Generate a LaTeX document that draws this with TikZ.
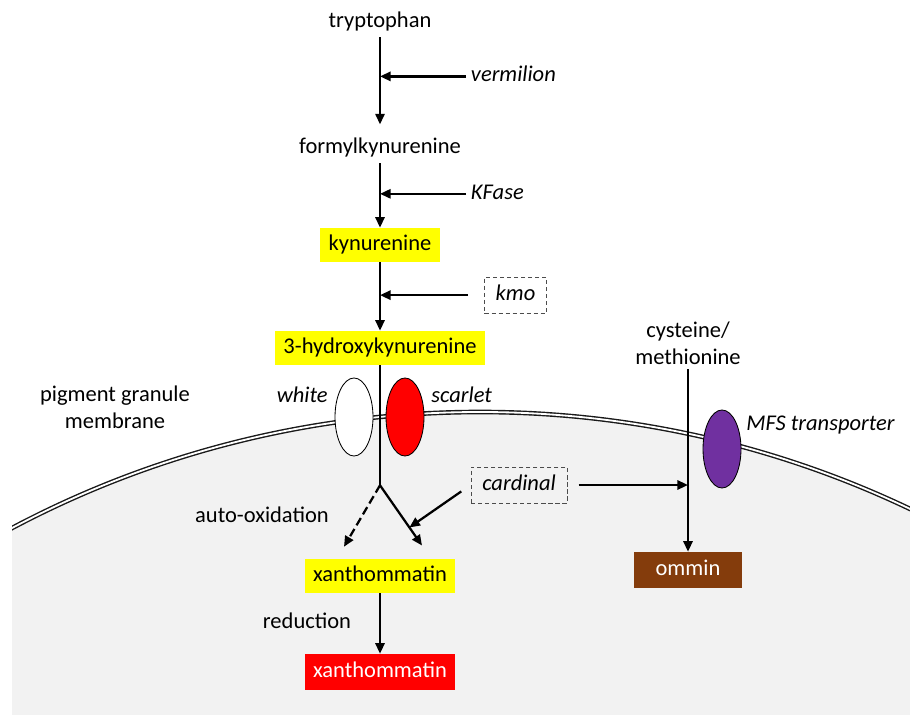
\documentclass[tikz,border=0pt]{standalone}
\usepackage{fontspec}
\setmainfont{Carlito}
\usetikzlibrary{positioning}
\usetikzlibrary{shapes.geometric}
\usetikzlibrary{arrows.meta}
\definecolor{hilite}{HTML}{FFFF00}
\definecolor{pigred}{HTML}{FF0000}
\definecolor{omminbrown}{HTML}{843C0C}
\definecolor{mfspurple}{HTML}{7030A0}
\definecolor{granulegray}{HTML}{F2F2F2}
\tikzset{
    metab/.style={font=\fontsize{16}{19}\selectfont, text height=11pt, text depth=3.5pt},
    yellowbox/.style={metab, fill=hilite, inner xsep=6pt, minimum height=0.85cm},
    redbox/.style={metab, fill=pigred, text=white, inner xsep=6pt, minimum height=0.9cm},
    ommbox/.style={metab, fill=omminbrown, text=white, minimum width=2.7cm, minimum height=0.9cm},
    gene/.style={metab, font=\fontsize{16}{19}\selectfont\itshape},
    genebox/.style={gene, draw=black!70, dash pattern=on 3pt off 2pt, line width=0.7pt, inner xsep=8pt, minimum height=0.9cm},
    flow/.style={line width=1.6pt, -{Triangle[length=7.5pt,width=6.5pt]}},
    plainline/.style={line width=1.6pt},
    carrier/.style={ellipse, draw, line width=0.6pt, minimum width=0.95cm, minimum height=1.95cm, inner sep=0pt},
    membrane/.style={draw=black!90, line width=1pt, double=white, double distance=1.3pt},
}

\begin{document}
\begin{tikzpicture}
            \useasboundingbox (0,0) rectangle (22.75,-17.9);
            % pigment granule
            \begin{scope}
                \clip (0.3,0) rectangle (22.75,-17.85);
                \fill[granulegray] (12,-35.3) circle (25);
                \draw[membrane] (12,-35.3) circle (25);
            \end{scope}

            \node[metab] (trp) at (9.5,-0.55)                   {tryptophan};
            \node[metab] (fkyn) [on grid, below=3.15cm of trp]  {formylkynurenine};
            \node[yellowbox] (kyn) [on grid, below=2.425cm of fkyn] {kynurenine};
            \node[yellowbox] (hk) [on grid, below=2.575cm of kyn]   {3-hydroxykynurenine};
            \node[yellowbox] (xan) [on grid, below=5.7cm of hk]     {xanthommatin};
            \node[redbox] (xanred) [on grid, below=2.4cm of xan]    {xanthommatin};

            \draw[flow, shorten >=6pt] (trp) -- coordinate[pos=0.41] (j1) (fkyn);
            \draw[flow] (fkyn) -- coordinate[pos=0.475] (j2) (kyn);
            \draw[flow] (kyn) -- coordinate[pos=0.48] (j3) (hk);

            \node[gene] (verm) [right=2.15cm of j1]   {vermilion};
            \node[gene] (kfase) [right=2.15cm of j2]  {KFase};
            \node[genebox] (kmo) [right=2.6cm of j3]  {kmo};
            \draw[flow] (verm) -- (j1);
            \draw[flow] (kfase) -- (j2);
            \draw[flow, shorten <=0.4cm] (kmo) -- (j3);

            \node[carrier, fill=white] (wht) at (8.85,-10.425) {};
            \node[carrier, fill=pigred] (sct) at (10.125,-10.425) {};
            \node[gene] (whtlbl) [left=0.05cm of wht.west, yshift=0.5cm]  {white};
            \node[gene] (sctlbl) [right=0.05cm of sct.east, yshift=0.5cm] {scarlet};

            \coordinate[below=3cm of hk] (br);
            \coordinate (ox) at ([xshift=-0.9cm,yshift=0.3cm]xan.north);
            \coordinate (enz) at ([xshift=1.05cm,yshift=0.33cm]xan.north);
            \draw[plainline] (hk) -- (br);
            \draw[flow, dash pattern=on 6pt off 3pt] (br) -- (ox);
            \draw[flow] (br) -- coordinate[pos=0.7] (j4) (enz);

            \node[metab] (autox) at (6.55,-12.925) {auto-oxidation};
            \node[metab, align=center] (pgm) at (2.875,-10.575) {pigment granule\\membrane};

            \draw[flow] (xan) -- coordinate (rmid) (xanred);
            \node[metab] (redn) [left=0.6cm of rmid] {reduction};

            \node[metab, align=center, text height=, text depth=] (cys) at (17.2,-8.575) {cysteine/\\methionine};
            \node[ommbox] (omm) [on grid, below=5.675cm of cys] {ommin};
            \draw[flow] (cys) -- (omm);
            \node[carrier, fill=mfspurple] (mfs) at (18.05,-11.225) {};
            \node[gene] (mfslbl) [right=0cm of mfs.east, yshift=0.6cm] {MFS transporter};

            \node[genebox] (card) at (12.975,-12.125) {cardinal};
            \draw[flow, shorten <=8pt] (card.west) -- (j4);
            \draw[flow, shorten <=8pt] (card.east) -- (card.east -| omm);
        \end{tikzpicture}
\end{document}
